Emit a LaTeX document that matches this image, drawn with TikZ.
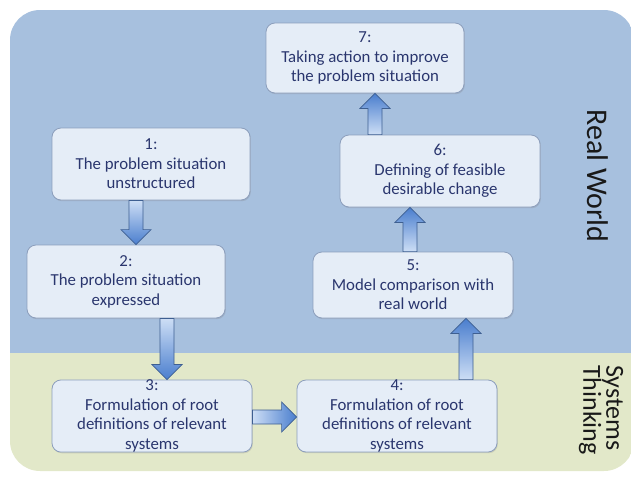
\documentclass[tikz,border=0pt]{standalone}
\usepackage{fontspec}
\setmainfont{Carlito}
\usetikzlibrary{calc,shadows}

\definecolor{worldblue}{RGB}{167,192,222}
\definecolor{systemsgreen}{RGB}{226,232,201}
\definecolor{stepfill}{RGB}{229,237,247}
\definecolor{stepborder}{RGB}{140,158,188}
\definecolor{steptext}{RGB}{42,54,110}
\definecolor{arrowlight}{RGB}{205,222,245}
\definecolor{arrowdark}{RGB}{74,126,206}
\definecolor{arrowedge}{RGB}{62,95,145}

\tikzset{
  stepbox/.style={draw=stepborder, line width=0.8pt, fill=stepfill,
    rounded corners=9pt, inner sep=0pt, align=center, text=steptext,
    font=\fontsize{16.8}{19.5}\selectfont,
    drop shadow={opacity=0.25, shadow xshift=0.8pt, shadow yshift=-1.2pt}},
  flowarrow/.style={draw=arrowedge, line width=0.7pt, line join=miter,
    bottom color=arrowlight, top color=arrowdark},
  sidelabel/.style={rotate=-90, text=black!90}
}

% block arrow from #1 to #2, shaded from tail (light) to head (dark)
\newcommand\stepflow[2]{%
  \path[flowarrow] let \p1=(#1), \p2=(#2),
      \n1={atan2(\y2-\y1,\x2-\x1)}, \n2={veclen(\x2-\x1,\y2-\y1)},
      \n3={\n1-90} in
    [shading angle=\n3, shift={(\p1)}, rotate=\n1]
    (0,7) -- (\n2-15,7) -- (\n2-15,15) -- (\n2,0) -- (\n2-15,-15)
    -- (\n2-15,-7) -- (0,-7) -- cycle;}

\begin{document}
\begin{tikzpicture}[x=1pt, y=1pt]
\useasboundingbox (0,0) rectangle (631,-479);

% two bands: real world above, systems thinking below
\begin{scope}
  \clip[rounded corners=30pt] (10,-10) rectangle (634,-471);
  \fill[worldblue] (0,0) rectangle (640,-353);
  \fill[systemsgreen] (0,-353) rectangle (640,-480);
\end{scope}

\node[sidelabel, font=\fontsize{30}{30}\selectfont] (rw) at (598,-176) {Real World};
\node[sidelabel, align=left, anchor=west, inner sep=0pt,
  font=\fontsize{26}{23}\selectfont] (st) at (601,-365) {Systems\\Thinking};

% the seven stages
\node[stepbox, minimum width=198pt, minimum height=70pt] (s7) at (365,-58)
  {7:\\Taking action to improve\\the problem situation};
\node[stepbox, minimum width=198pt, minimum height=72pt] (s1) at (151,-164)
  {1:\\The problem situation\\unstructured};
\node[stepbox, minimum width=200pt, minimum height=72pt] (s6) at (440,-171)
  {6:\\Defining of feasible\\desirable change};
\node[stepbox, minimum width=198pt, minimum height=73pt] (s2) at (126,-281.5)
  {2:\\The problem situation\\expressed};
\node[stepbox, minimum width=200pt, minimum height=66pt] (s5) at (413,-285)
  {5:\\Model comparison with\\real world};
\node[stepbox, minimum width=200pt, minimum height=72pt] (s3) at (152,-416)
  {3:\\Formulation of root\\definitions of relevant\\systems};
\node[stepbox, minimum width=200pt, minimum height=72pt] (s4) at (397,-416)
  {4:\\Formulation of root\\definitions of relevant\\systems};

% columns and row used by the connectors
\coordinate (c12) at (136,0);
\coordinate (c23) at (167,0);
\coordinate (c45) at (466,0);
\coordinate (c56) at (410,0);
\coordinate (c67) at (375,0);
\coordinate (r34) at (0,-417);

\stepflow{s1.south -| c12}{s2.north -| c12}
\stepflow{s2.south -| c23}{s3.north -| c23}
\stepflow{s3.east |- r34}{s4.west |- r34}
\stepflow{s4.north -| c45}{s5.south -| c45}
\stepflow{s5.north -| c56}{s6.south -| c56}
\stepflow{s6.north -| c67}{s7.south -| c67}
\end{tikzpicture}
\end{document}
